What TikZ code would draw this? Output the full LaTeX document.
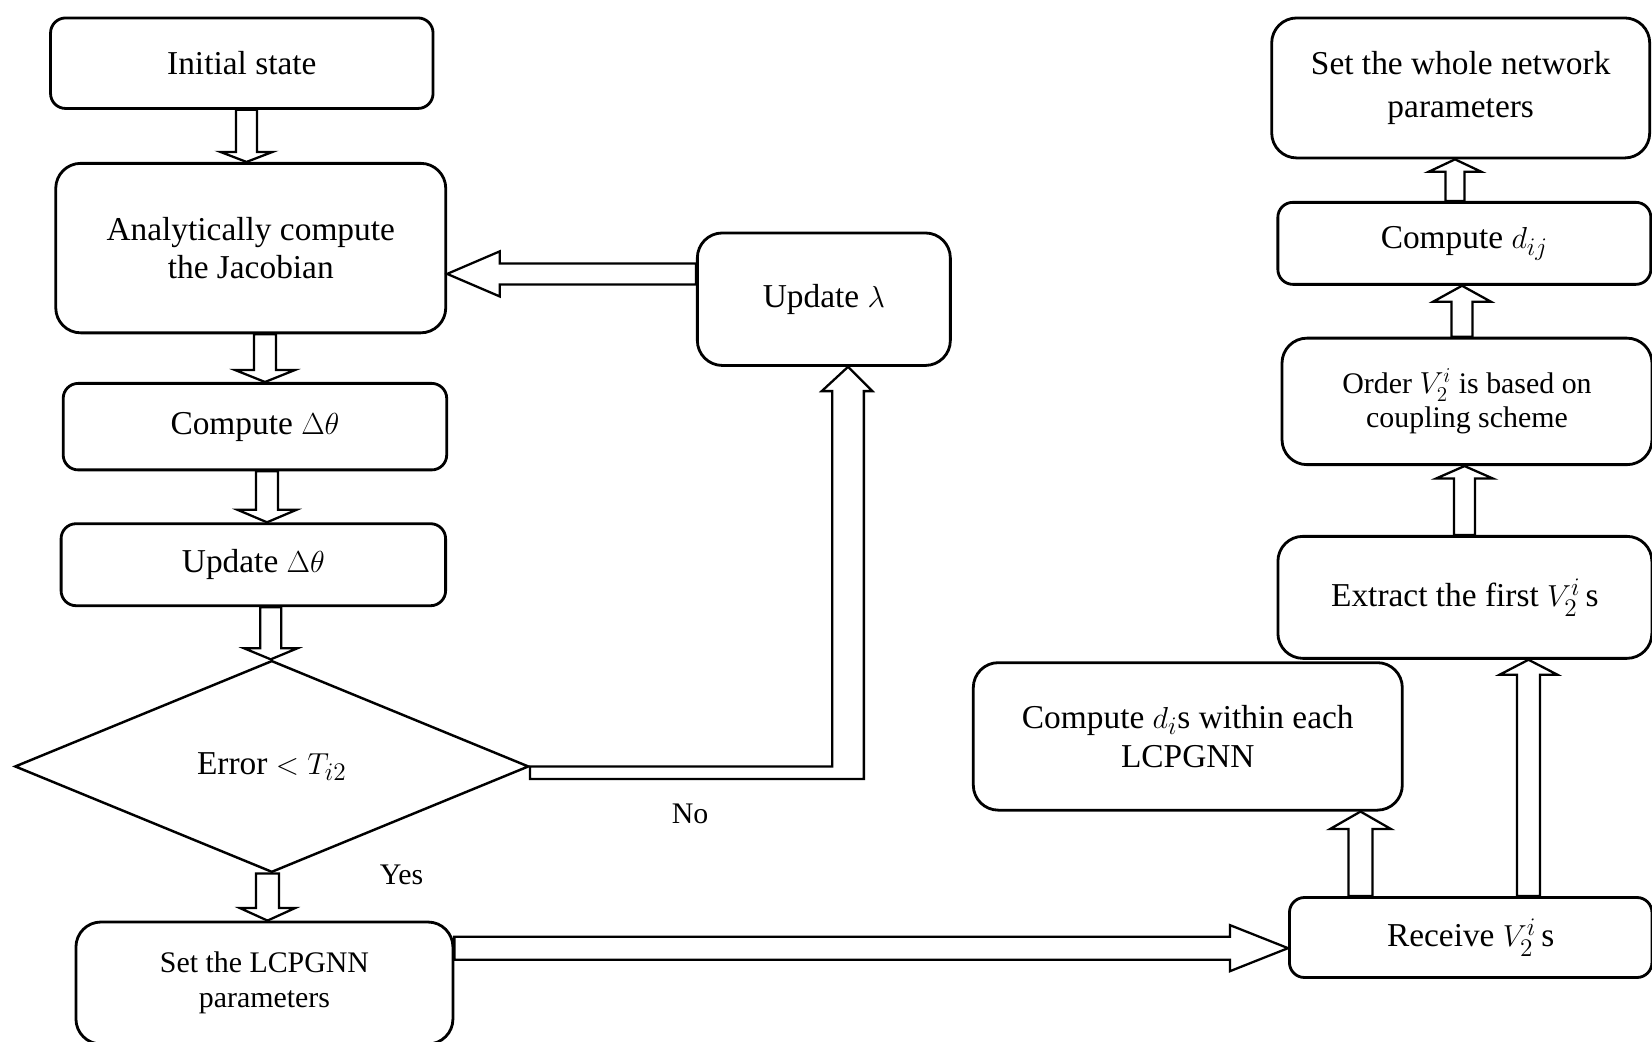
\documentclass[tikz,border=0pt]{standalone}
\usepackage{amsmath}
\usepackage{fontspec}
\setmainfont{Liberation Serif}
\usetikzlibrary{shapes.geometric,calc}
% hollow block arrows between two nodes: position, from, to, shaft half width, head half width, head length
\newcommand{\vblock}[6]{%
  \draw[blk] let \p1=(#2), \p2=(#3), \n1={sign(\y2-\y1)} in
    ({#1-#4},\y1) -- ({#1-#4},{\y2-(\n1)*#6}) -- ({#1-#5},{\y2-(\n1)*#6})
    -- (#1,\y2) -- ({#1+#5},{\y2-(\n1)*#6}) -- ({#1+#4},{\y2-(\n1)*#6})
    -- ({#1+#4},\y1) -- cycle;}
\newcommand{\hblock}[6]{%
  \draw[blk] let \p1=(#2), \p2=(#3), \n1={sign(\x2-\x1)} in
    (\x1,{#1-#4}) -- ({\x2-(\n1)*#6},{#1-#4}) -- ({\x2-(\n1)*#6},{#1-#5})
    -- (\x2,#1) -- ({\x2-(\n1)*#6},{#1+#5}) -- ({\x2-(\n1)*#6},{#1+#4})
    -- (\x1,{#1+#4}) -- cycle;}
\newcommand{\Vtwo}{$V_2^i$}

\begin{document}
\begin{tikzpicture}[
box/.style={draw,line width=1.6pt,rounded corners=0.3cm,align=center,inner sep=2pt,font=\fontsize{19}{22}\selectfont},
bigbox/.style={box,rounded corners=0.5cm},
smallfont/.style={font=\fontsize{17}{20}\selectfont},
decision/.style={draw,diamond,line width=1.4pt,inner sep=0pt,align=center,font=\fontsize{19}{22}\selectfont},
blk/.style={draw,line width=1.3pt,fill=white,line join=miter},
lbl/.style={font=\fontsize{17}{20}\selectfont}
]
\useasboundingbox (0,0) rectangle (33.04,-20.84);
% left column
\node[box,minimum width=7.65cm,minimum height=1.81cm] (init) at (4.836,-1.264) {Initial state};
\node[bigbox,minimum width=7.80cm,minimum height=3.39cm] (jac) at (5.015,-4.962) {Analytically compute\\the Jacobian};
\node[box,minimum width=7.67cm,minimum height=1.73cm] (cdt) at (5.099,-8.533) {Compute $\Delta\theta$};
\node[box,minimum width=7.69cm,minimum height=1.64cm] (udt) at (5.067,-11.294) {Update $\Delta\theta$};
\node[decision,minimum width=10.28cm,minimum height=4.235cm] (err) at (5.436,-15.329) {Error $<T_{i2}$};
\node[bigbox,smallfont,minimum width=7.54cm,minimum height=2.44cm] (lcp) at (5.289,-19.66) {Set the LCPGNN\\parameters};
\node[bigbox,minimum width=5.06cm,minimum height=2.65cm] (lam) at (16.477,-5.984) {Update $\lambda$};
% right column
\node[bigbox,font=\fontsize{19}{24.5}\selectfont,minimum width=7.56cm,minimum height=2.80cm] (whole) at (29.214,-1.759) {Set the whole network\\parameters};
\node[box,minimum width=7.46cm,minimum height=1.64cm] (dij) at (29.287,-4.867) {Compute $d_{ij}$};
\node[bigbox,smallfont,font=\fontsize{17}{19}\selectfont,minimum width=7.40cm,minimum height=2.53cm] (order) at (29.34,-8.028) {Order \Vtwo{} is based on\\coupling scheme};
\node[bigbox,minimum width=7.48cm,minimum height=2.44cm] (extract) at (29.298,-11.947) {Extract the first \Vtwo\kern3pt s};
\node[bigbox,minimum width=8.58cm,minimum height=2.95cm] (cdi) at (23.756,-14.728) {Compute $d_i$s within each\\LCPGNN};
\node[box,minimum width=7.25cm,minimum height=1.60cm] (recv) at (29.414,-18.75) {Receive \Vtwo\kern3pt s};
% arrows
\vblock{4.93cm}{init.south}{jac.north}{0.21cm}{0.52cm}{0.2cm}
\vblock{5.30cm}{jac.south}{cdt.north}{0.22cm}{0.60cm}{0.24cm}
\vblock{5.34cm}{cdt.south}{udt.north}{0.22cm}{0.59cm}{0.25cm}
\vblock{5.415cm}{udt.south}{err.north}{0.21cm}{0.53cm}{0.22cm}
\vblock{5.35cm}{err.south}{lcp.north}{0.23cm}{0.55cm}{0.25cm}
\hblock{-5.478cm}{lam.west}{jac.east}{0.21cm}{0.45cm}{1.05cm}
\hblock{-18.963cm}{lcp.east}{recv.west}{0.23cm}{0.46cm}{1.16cm}
\vblock{27.21cm}{recv.north}{cdi.south}{0.24cm}{0.61cm}{0.35cm}
\vblock{30.57cm}{recv.north}{extract.south}{0.23cm}{0.58cm}{0.30cm}
\vblock{29.29cm}{extract.north}{order.south}{0.21cm}{0.57cm}{0.25cm}
\vblock{29.24cm}{order.north}{dij.south}{0.21cm}{0.58cm}{0.32cm}
\vblock{29.10cm}{dij.north}{whole.south}{0.19cm}{0.53cm}{0.25cm}
% no branch
\draw[blk] let \p1=(err.east), \p2=(lam.south) in
  (\p1) -- (16.645cm,\y1) -- (16.645cm,\y2-0.485cm) -- (16.435cm,\y2-0.485cm)
  -- (16.96cm,\y2) -- (17.446cm,\y2-0.485cm) -- (17.277cm,\y2-0.485cm)
  -- (17.277cm,\y1-0.253cm) -- (\x1,\y1-0.253cm) -- cycle;
\node[lbl] (no) at (13.80,-16.27) {No};
\node[lbl] (yes) at (8.03,-17.49) {Yes};
\end{tikzpicture}
\end{document}
